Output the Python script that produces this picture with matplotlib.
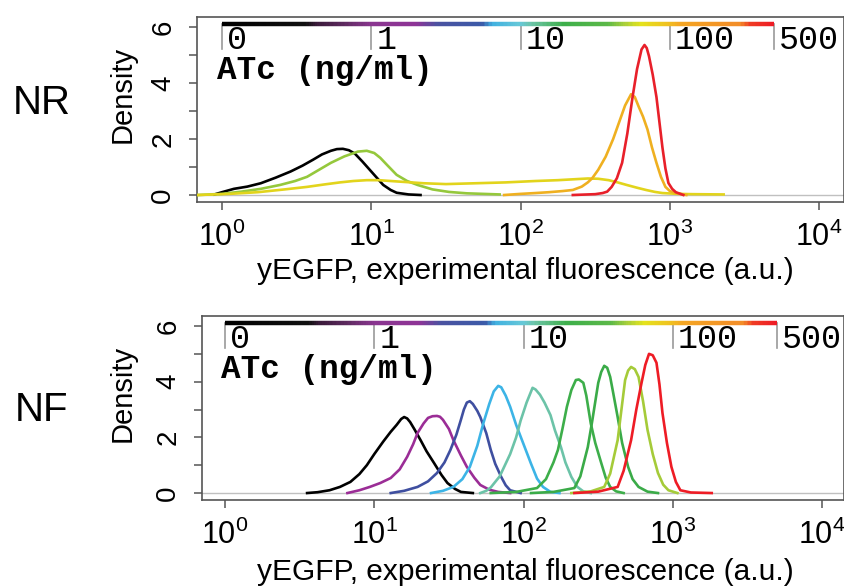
import numpy as np
import matplotlib
matplotlib.use('Agg')
import matplotlib.pyplot as plt
from matplotlib.collections import LineCollection
from matplotlib.colors import LinearSegmentedColormap
from matplotlib.ticker import NullLocator

plt.rcParams['font.family'] = ['Liberation Sans', 'DejaVu Sans']
plt.rcParams['mathtext.fontset'] = 'custom'
plt.rcParams['mathtext.rm'] = 'Liberation Sans'
plt.rcParams['mathtext.it'] = 'Liberation Sans:italic'

# ATc legend values (ng/ml)
atc_values = [0, 1, 10, 100, 500]
atc_labels = ['0', '1', '10', '100', '500']

# NR panel: log10(fluorescence) and density
nr_black_log10 = [-0.05, 0.0, 0.08, 0.17, 0.26, 0.36, 0.46, 0.54, 0.61, 0.67, 0.73, 0.77, 0.81, 0.85,
                  0.89, 0.94, 0.99, 1.04, 1.08, 1.13, 1.17, 1.25, 1.33]
nr_black_dens = [0.02, 0.1, 0.22, 0.3, 0.42, 0.62, 0.84, 1.05, 1.26, 1.45, 1.58, 1.64, 1.65, 1.6,
                 1.48, 1.2, 0.9, 0.6, 0.36, 0.18, 0.08, 0.02, 0.0]
nr_ygreen_log10 = [-0.16, 0.0, 0.13, 0.26, 0.39, 0.49, 0.57, 0.65, 0.73, 0.82, 0.91, 0.97, 1.02, 1.06,
                   1.11, 1.17, 1.24, 1.31, 1.41, 1.52, 1.64, 1.75, 1.86]
nr_ygreen_dens = [0.0, 0.04, 0.12, 0.22, 0.36, 0.5, 0.65, 0.9, 1.15, 1.38, 1.55, 1.58, 1.5, 1.33,
                  1.05, 0.72, 0.5, 0.36, 0.2, 0.11, 0.06, 0.04, 0.02]
nr_yellow_log10 = [-0.16, 0.05, 0.24, 0.42, 0.57, 0.69, 0.79, 0.88, 0.97, 1.05, 1.13, 1.24, 1.35, 1.5,
                   1.7, 1.9, 2.1, 2.25, 2.35, 2.45, 2.52, 2.59, 2.65, 2.71, 2.78, 2.84, 2.9, 2.95,
                   3.05, 3.15, 3.36]
nr_yellow_dens = [0.0, 0.04, 0.1, 0.2, 0.29, 0.38, 0.45, 0.5, 0.53, 0.53, 0.5, 0.46, 0.42, 0.39,
                  0.42, 0.45, 0.5, 0.53, 0.56, 0.59, 0.58, 0.53, 0.45, 0.36, 0.26, 0.18, 0.11, 0.07,
                  0.04, 0.03, 0.02]
nr_orange_log10 = [1.89, 2.0, 2.1, 2.19, 2.28, 2.35, 2.41, 2.45, 2.48, 2.52, 2.57, 2.62, 2.66, 2.7,
                   2.74, 2.765, 2.79, 2.82, 2.85, 2.88, 2.91, 2.94, 2.97, 3.0, 3.04, 3.11]
nr_orange_dens = [0.0, 0.04, 0.07, 0.1, 0.14, 0.18, 0.3, 0.45, 0.6, 0.9, 1.37, 2.0, 2.6, 3.2,
                  3.6, 3.5, 3.17, 2.8, 2.34, 1.7, 1.15, 0.65, 0.29, 0.14, 0.07, 0.0]
nr_red_log10 = [2.35, 2.5, 2.55, 2.58, 2.61, 2.645, 2.68, 2.715, 2.75, 2.78, 2.81, 2.83, 2.845, 2.86,
                2.885, 2.91, 2.93, 2.95, 2.97, 2.99, 3.015, 3.04, 3.09]
nr_red_dens = [0.0, 0.03, 0.07, 0.12, 0.29, 0.6, 1.15, 2.2, 3.5, 4.5, 5.2, 5.36, 5.25, 4.96,
               4.3, 3.5, 2.6, 1.7, 0.95, 0.43, 0.22, 0.1, 0.0]

# NF panel
nf_black_log10 = [0.55, 0.62, 0.70, 0.77, 0.84, 0.9, 0.95, 1.0, 1.06, 1.11, 1.15, 1.18, 1.20, 1.22,
                  1.24, 1.27, 1.31, 1.35, 1.40, 1.45, 1.49, 1.54, 1.58, 1.66]
nf_black_dens = [0.0, 0.03, 0.1, 0.22, 0.4, 0.68, 1.0, 1.4, 1.85, 2.2, 2.45, 2.66, 2.73, 2.68,
                 2.55, 2.28, 1.9, 1.5, 1.08, 0.65, 0.36, 0.15, 0.04, 0.0]
nf_purple_log10 = [0.82, 0.9, 0.97, 1.04, 1.11, 1.17, 1.22, 1.26, 1.29, 1.33, 1.36, 1.39, 1.42, 1.44,
                   1.46, 1.5, 1.53, 1.58, 1.62, 1.67, 1.71, 1.77, 1.83, 1.91]
nf_purple_dens = [0.0, 0.1, 0.22, 0.36, 0.54, 0.85, 1.3, 1.75, 2.16, 2.5, 2.7, 2.76, 2.77, 2.74,
                  2.63, 2.3, 1.9, 1.35, 0.94, 0.55, 0.29, 0.12, 0.04, 0.0]
nf_blue_log10 = [1.11, 1.2, 1.29, 1.36, 1.42, 1.47, 1.51, 1.55, 1.58, 1.6, 1.62, 1.64, 1.66, 1.69,
                 1.71, 1.75, 1.78, 1.81, 1.85, 1.88, 1.91, 1.98]
nf_blue_dens = [0.0, 0.08, 0.22, 0.42, 0.72, 1.1, 1.55, 2.1, 2.63, 3.0, 3.25, 3.3, 3.2, 2.95,
                2.73, 2.15, 1.55, 1.05, 0.58, 0.28, 0.1, 0.0]
nf_lblue_log10 = [1.38, 1.46, 1.53, 1.59, 1.64, 1.69, 1.73, 1.77, 1.8, 1.83, 1.85, 1.88, 1.91, 1.95,
                  2.0, 2.05, 2.09, 2.13, 2.18, 2.24]
nf_lblue_dens = [0.0, 0.08, 0.22, 0.5, 0.94, 1.7, 2.5, 3.2, 3.65, 3.85, 3.8, 3.5, 3.1, 2.45,
                 1.75, 1.05, 0.52, 0.22, 0.04, 0.0]
nf_teal_log10 = [1.71, 1.75, 1.78, 1.84, 1.91, 1.95, 1.98, 2.02, 2.06, 2.08, 2.11, 2.14, 2.18, 2.21,
                 2.25, 2.28, 2.32, 2.36, 2.4, 2.45]
nf_teal_dens = [0.0, 0.08, 0.2, 0.6, 1.4, 2.0, 2.6, 3.25, 3.78, 3.72, 3.53, 3.25, 2.8, 2.25,
                1.65, 1.1, 0.58, 0.22, 0.06, 0.0]
nf_green1_log10 = [1.78, 1.95, 2.09, 2.15, 2.2, 2.23, 2.26, 2.29, 2.32, 2.35, 2.37, 2.40, 2.42, 2.45,
                   2.48, 2.52, 2.55, 2.58, 2.62, 2.67]
nf_green1_dens = [0.0, 0.04, 0.18, 0.5, 1.1, 1.55, 2.3, 3.1, 3.7, 4.06, 4.08, 3.96, 3.5, 2.5,
                  1.8, 1.08, 0.55, 0.22, 0.06, 0.0]
nf_green2_log10 = [2.05, 2.2, 2.34, 2.38, 2.43, 2.46, 2.5, 2.52, 2.54, 2.56, 2.58, 2.6, 2.63, 2.66,
                   2.70, 2.73, 2.77, 2.83, 2.90]
nf_green2_dens = [0.0, 0.04, 0.18, 0.6, 1.65, 2.6, 3.96, 4.35, 4.57, 4.5, 4.17, 3.6, 2.73, 1.8,
                  0.94, 0.5, 0.22, 0.05, 0.0]
nf_ygreen_log10 = [2.32, 2.45, 2.54, 2.58, 2.63, 2.66, 2.68, 2.70, 2.72, 2.745, 2.77, 2.8, 2.83,
                   2.865, 2.9, 2.935, 2.97, 3.03]
nf_ygreen_dens = [0.0, 0.06, 0.22, 0.7, 1.9, 3.2, 4.06, 4.4, 4.53, 4.45, 4.17, 3.3, 2.27,
                  1.4, 0.72, 0.3, 0.1, 0.0]
nf_red_log10 = [2.34, 2.5, 2.63, 2.67, 2.72, 2.755, 2.79, 2.815, 2.84, 2.865, 2.89, 2.91, 2.93,
                2.96, 2.99, 3.02, 3.05, 3.12, 3.26]
nf_red_dens = [0.0, 0.05, 0.22, 0.8, 1.9, 3.0, 3.96, 4.6, 5.0, 4.95, 4.68, 3.9, 2.88,
               1.8, 0.94, 0.4, 0.1, 0.02, 0.0]

nr_curves = [
    (nr_black_log10, nr_black_dens, '#000000'),
    (nr_ygreen_log10, nr_ygreen_dens, '#95c83c'),
    (nr_yellow_log10, nr_yellow_dens, '#e2d41c'),
    (nr_orange_log10, nr_orange_dens, '#efb020'),
    (nr_red_log10, nr_red_dens, '#e8202a'),
]
nf_curves = [
    (nf_black_log10, nf_black_dens, '#000000'),
    (nf_purple_log10, nf_purple_dens, '#9b2d96'),
    (nf_blue_log10, nf_blue_dens, '#3f4fa0'),
    (nf_lblue_log10, nf_lblue_dens, '#3cb4e6'),
    (nf_teal_log10, nf_teal_dens, '#6cc3a8'),
    (nf_green1_log10, nf_green1_dens, '#3dae4a'),
    (nf_green2_log10, nf_green2_dens, '#3aab48'),
    (nf_ygreen_log10, nf_ygreen_dens, '#a5cb39'),
    (nf_red_log10, nf_red_dens, '#ee1c25'),
]

# colour ramp of the ATc legend bar
ramp = LinearSegmentedColormap.from_list('atc', [
    (0.0, '#000000'), (0.15, '#111111'), (0.17, '#3a1a3a'), (0.22, '#5e2a60'),
    (0.27, '#8a3590'), (0.35, '#8e3496'), (0.39, '#4a52a0'), (0.47, '#3b5aa8'),
    (0.49, '#40b0e0'), (0.54, '#66c8d8'), (0.56, '#6cc4a8'), (0.62, '#3daf4a'),
    (0.70, '#5cb848'), (0.73, '#a8cf3a'), (0.76, '#e4e31c'), (0.81, '#f0c020'),
    (0.83, '#f5a623'), (0.94, '#f28c28'), (0.96, '#ef3b24'), (1.0, '#ee1c25')])

fig = plt.figure(figsize=(8.45, 5.87), dpi=100)
W, H = 845.0, 587.0

def panel(rect_px, xlim_log, curves, name, dens_y, name_y, xlab_y):
    x0, x1, ytop, ybot = rect_px
    ax = fig.add_axes([x0 / W, 1 - ybot / H, (x1 - x0) / W, (ybot - ytop) / H])
    ax.set_xscale('log')
    ax.axhline(0, color='#c0c0c0', lw=1.0, zorder=1)
    for lx, d, c in curves:
        ax.plot(10 ** np.array(lx), d, color=c, lw=1.9, zorder=3)
    ax.set_xlim(10 ** xlim_log[0], 10 ** xlim_log[1])
    ax.set_ylim(-0.25, 6.36)
    ax.set_xticks([1, 10, 100, 1000, 10000])
    ax.xaxis.set_minor_locator(NullLocator())
    ax.set_yticks(range(7))
    ax.set_yticklabels(['0', '', '2', '', '4', '', '6'], rotation=90, va='center')
    ax.tick_params(axis='both', direction='out', length=6, width=1.1,
                   color='#555555', labelsize=20)
    ax.tick_params(axis='x', pad=8, labelsize=22)
    ax.tick_params(axis='y', pad=9)
    for s in ax.spines.values():
        s.set_color('#555555')
        s.set_linewidth(1.2)

    # ATc legend bar
    pos = [max(10.0 * v, 1.0) for v in atc_values]
    xs = 10 ** np.linspace(0, np.log10(pos[-1]), 400)
    pts = np.column_stack([xs, np.full_like(xs, 6.1)])
    segs = np.stack([pts[:-1], pts[1:]], axis=1)
    lc = LineCollection(segs, colors=ramp(np.linspace(0, 1, len(segs))), linewidths=3.2, zorder=4)
    ax.add_collection(lc)
    for p, lab in zip(pos, atc_labels):
        ax.plot([p, p], [6.1, 5.2], color='#9a9a9a', lw=1.2, zorder=3)
        ax.text(p * 1.08, 5.22, lab, ha='left', va='baseline',
                family='Liberation Mono', fontsize=24)
    ax.text(10 ** -0.03, 4.15, 'ATc (ng/ml)', ha='left', va='baseline',
            family='Liberation Mono', weight='bold', fontsize=23.5)

    fig.text(123 / W, 1 - dens_y / H, 'Density', rotation=90, ha='center', va='center', fontsize=21)
    fig.text(42 / W, 1 - name_y / H, name, ha='center', va='center', fontsize=29)
    fig.text(525 / W, 1 - xlab_y / H, 'yEGFP, experimental fluorescence (a.u.)',
             ha='center', va='center', fontsize=21.5)
    return ax

panel((197, 844, 17, 202), (-0.167, 4.166), nr_curves, 'NR', 94, 103, 271)
panel((202, 844, 316, 500), (-0.154, 4.146), nf_curves, 'NF', 393, 410, 572)

fig.savefig('out.png', dpi=100)
